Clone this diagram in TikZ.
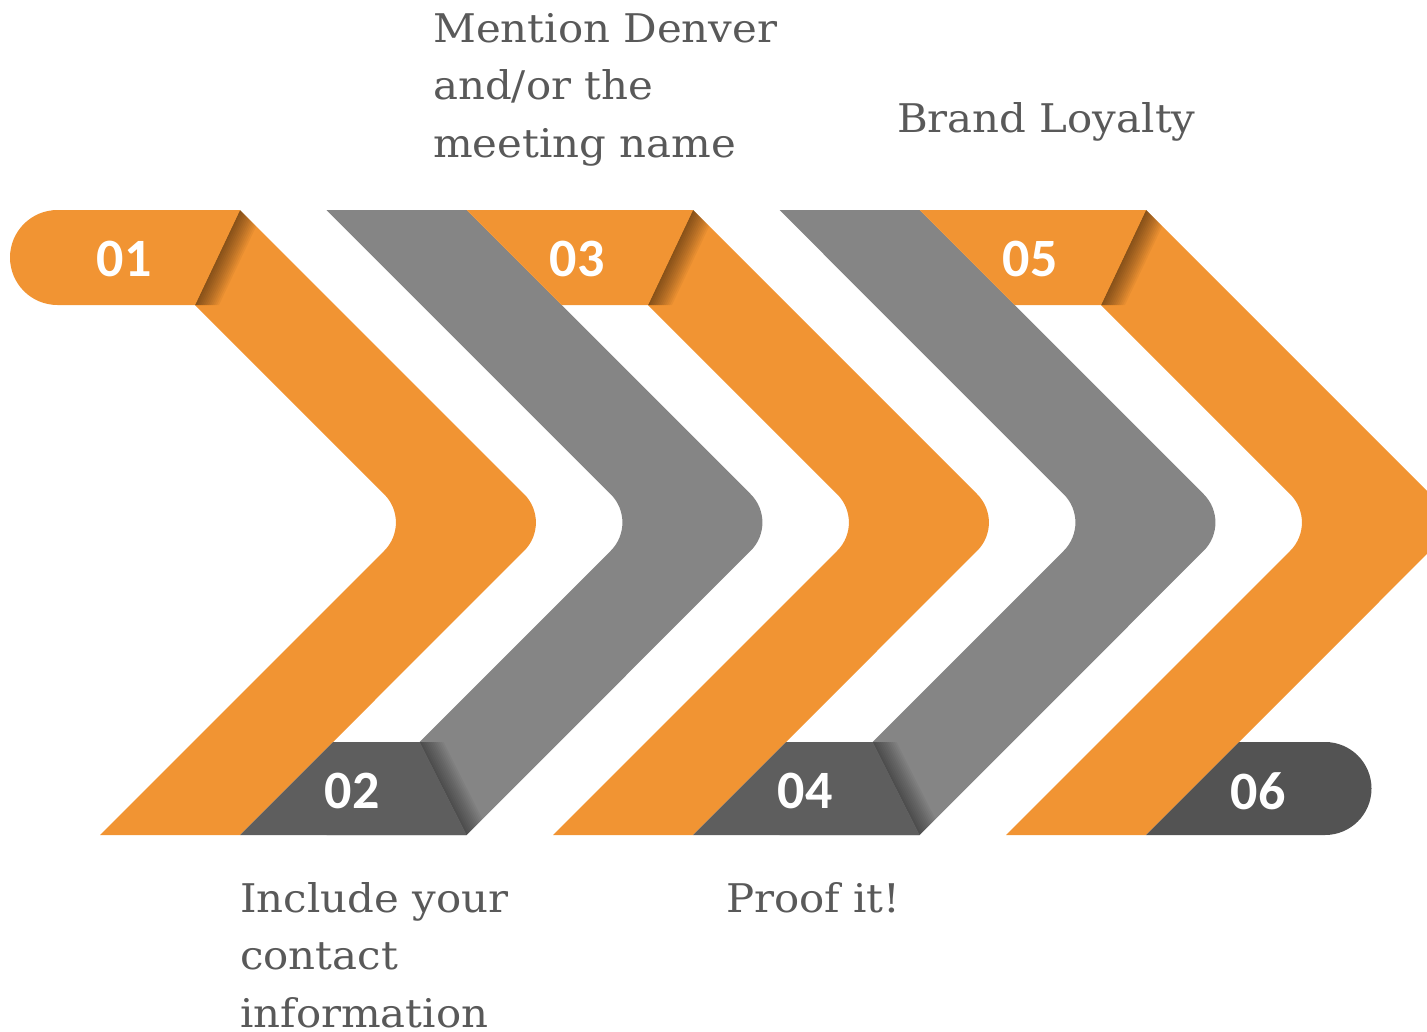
\documentclass[tikz,border=0pt]{standalone}
\usepackage{fontspec}
\setmainfont{DejaVu Serif}[FakeStretch=1.06]
\newfontfamily\numfont{Carlito}
\usetikzlibrary{positioning}
\definecolor{steporange}{RGB}{241,148,51}
\definecolor{stepgray}{RGB}{133,133,133}
\definecolor{tabgray}{RGB}{94,94,94}
\definecolor{endgray}{RGB}{83,83,83}
\definecolor{labelgray}{RGB}{89,89,89}
\newcommand\chevronpath{(100,210) -- (240,210) -- (524.2,494.2)
  arc[start angle=-45,end angle=45,radius=40] -- (240,835) -- (100,835)
  -- (384.2,550.8) arc[start angle=45,end angle=-45,radius=40] -- cycle}

\begin{document}
\begin{tikzpicture}[x=1pt,y=-1pt,
num/.style ={text=white ,font=\numfont\bfseries\fontsize{54}{54}\selectfont},
caption/.style ={text=labelgray ,anchor=base west ,align=left ,inner sep=0pt,
font=\fontsize{39.5}{57.5}\selectfont}]

\useasboundingbox (0,0) rectangle (1427,1031);

\foreach \k/\col in {0/steporange,1/stepgray,2/steporange,3/stepgray,4/steporange}{
\begin{scope}[shift={(\k*226.5,0)}]
\fill[\col] \chevronpath;
\begin{scope}
\clip \chevronpath;
\ifodd\k
\foreach \s in {2,4,...,24}
\fill[black,opacity=0.04] (193,742) -- (240,835) -- (240+\s,835) -- (193+\s,742) -- cycle;
\else
\foreach \s in {2,4,...,24}
\fill[black,opacity=0.045] (240,210) -- (195,305) -- (195+\s,305) -- (240+\s,210) -- cycle;
\fi
\end{scope}
\end{scope}
}

\fill[steporange] (57.5,210) -- (240,210) -- (195,305) -- (57.5,305)
arc[start angle=90,end angle=270,radius=47.5] -- cycle;
\foreach \x in {453,906}
\fill[steporange,shift={(\x,0)}] (13.5,210) -- (108.5,305) -- (195,305) -- (240,210) -- cycle;
\foreach \x in {226.5,679.5}
\fill[tabgray,shift={(\x,0)}] (13.5,835) -- (106.5,742) -- (193,742) -- (240,835) -- cycle;
\fill[endgray] (1146,835) -- (1239,742) -- (1325,742)
arc[start angle=-90,end angle=90,radius=46.5] -- cycle;

\node[num] (n01) at (124,259) {01};
\node[num] (n03) at (577,259) {03};
\node[num] (n05) at (1030,259) {05};
\node[num] (n02) at (352,791) {02};
\node[num] (n04) at (805,791) {04};
\node[num] (n06) at (1258,791) {06};

\node[caption] (t03) at (433,157) {Mention Denver\\and/or the\\meeting name};
\node[caption] (t05) at (897,132) {Brand Loyalty};
\node[caption] (t02) at (240,1027) {Include your\\contact\\information};
\node[caption] (t04) at (726,912) {Proof it!};

\end{tikzpicture}
\end{document}
